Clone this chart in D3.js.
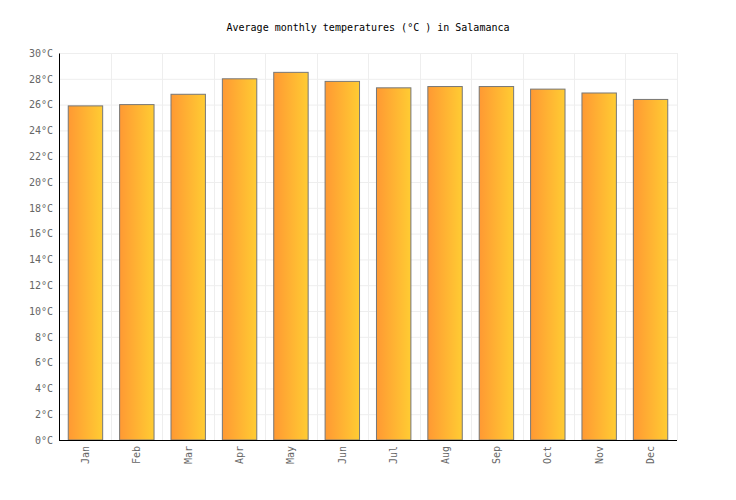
<!DOCTYPE html>
<html>
<head>
<meta charset="utf-8">
<script src="https://cdn.jsdelivr.net/npm/d3@7"></script>
<style>
  body { margin: 0; background: #fff; }
  text { font-family: "DejaVu Sans Mono", monospace; }
</style>
</head>
<body>
<svg id="chart"></svg>
<script>
var months = ['Jan', 'Feb', 'Mar', 'Apr', 'May', 'Jun', 'Jul', 'Aug', 'Sep', 'Oct', 'Nov', 'Dec'];
var temps = [25.9, 26.0, 26.8, 28.0, 28.5, 27.8, 27.3, 27.4, 27.4, 27.2, 26.9, 26.4];
var yTicks = [0, 2, 4, 6, 8, 10, 12, 14, 16, 18, 20, 22, 24, 26, 28, 30];

var width = 736;
var height = 500;
var margin = {top: 53, right: 59, bottom: 60, left: 59};

var svg = d3.select('#chart')
    .attr('width', width)
    .attr('height', height);

var defs = svg.append('defs');
var grad = defs.append('linearGradient')
    .attr('id', 'barGrad')
    .attr('x1', '0%').attr('x2', '100%')
    .attr('y1', '0%').attr('y2', '0%');
grad.append('stop').attr('offset', '0%').attr('stop-color', '#ff9933');
grad.append('stop').attr('offset', '100%').attr('stop-color', '#ffcc33');

var x = d3.scaleBand()
    .domain(months)
    .range([margin.left, width - margin.right])
    .paddingInner(0.33)
    .paddingOuter(0.18);

var xGrid = d3.scaleLinear()
    .domain([0, 12])
    .range([margin.left, width - margin.right]);

var y = d3.scaleLinear()
    .domain([0, 30])
    .range([height - margin.bottom, margin.top]);

// grid
svg.append('g')
    .selectAll('line')
    .data(yTicks)
    .enter()
    .append('line')
    .attr('x1', margin.left)
    .attr('x2', width - margin.right)
    .attr('y1', function(d) { return y(d) + 0.5; })
    .attr('y2', function(d) { return y(d) + 0.5; })
    .attr('stroke', '#eeeeee');

svg.append('g')
    .selectAll('line')
    .data(d3.range(1, 13))
    .enter()
    .append('line')
    .attr('x1', function(d) { return Math.round(xGrid(d)) + 0.5; })
    .attr('x2', function(d) { return Math.round(xGrid(d)) + 0.5; })
    .attr('y1', margin.top)
    .attr('y2', height - margin.bottom)
    .attr('stroke', '#eeeeee');

// bars
svg.append('g')
    .selectAll('rect')
    .data(temps)
    .enter()
    .append('rect')
    .attr('x', function(d, i) { return x(months[i]); })
    .attr('y', function(d) { return y(d); })
    .attr('width', x.bandwidth())
    .attr('height', function(d) { return y(0) - y(d); })
    .attr('fill', 'url(#barGrad)')
    .attr('stroke', '#777777')
    .attr('stroke-width', 1);

// axes
var yAxis = svg.append('g')
    .attr('transform', 'translate(' + margin.left + ',0)')
    .call(d3.axisLeft(y).tickValues(yTicks).tickSize(0).tickPadding(6)
        .tickFormat(function(d) { return d + '°C'; }));
yAxis.select('.domain').attr('stroke', '#000');
yAxis.selectAll('text').attr('fill', '#666').style('font-size', '10px');

var xAxis = svg.append('g')
    .attr('transform', 'translate(0,' + (height - margin.bottom) + ')')
    .call(d3.axisBottom(x).tickSize(0).tickPadding(0));
xAxis.select('.domain').attr('stroke', '#000').attr('d', 'M' + margin.left + ',0.5H' + (width - margin.right));
xAxis.selectAll('text')
    .attr('fill', '#666')
    .style('font-size', '10px')
    .attr('text-anchor', 'end')
    .attr('dy', '0.35em')
    .attr('transform', 'translate(0,6) rotate(-90)')
    .attr('x', 0)
    .attr('y', 0);

svg.append('text')
    .attr('x', width / 2)
    .attr('y', 31)
    .attr('text-anchor', 'middle')
    .style('font-size', '10px')
    .attr('fill', '#000')
    .text('Average monthly temperatures (°C ) in Salamanca');
</script>
</body>
</html>
